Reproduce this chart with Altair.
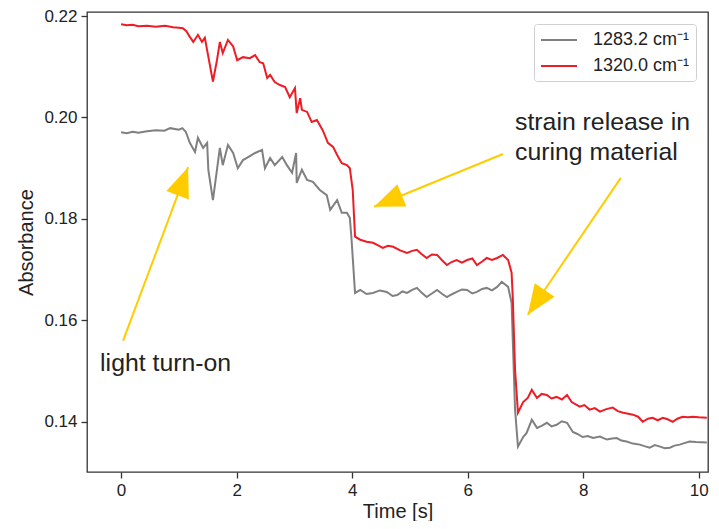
import altair as alt
import pandas as pd

# ---- data ----
red_t = [0.00, 0.10, 0.20, 0.30, 0.45, 0.60, 0.76, 0.90, 1.00, 1.07, 1.13, 1.19, 1.25, 1.33, 1.40,
         1.45, 1.51, 1.59, 1.66, 1.71, 1.76, 1.85, 1.94, 2.01, 2.11, 2.23, 2.32, 2.40, 2.46,
         2.53, 2.58, 2.66, 2.75, 2.84, 2.92, 3.01, 3.04, 3.10, 3.13, 3.22, 3.30, 3.39, 3.49,
         3.58, 3.67, 3.74, 3.82, 3.91, 3.96, 4.01, 4.05, 4.14, 4.25, 4.36, 4.45, 4.53, 4.62,
         4.71, 4.83, 4.95, 5.04, 5.12, 5.20, 5.29, 5.38, 5.47, 5.56, 5.64, 5.72, 5.81, 5.90,
         5.99, 6.08, 6.16, 6.25, 6.33, 6.42, 6.51, 6.61, 6.70, 6.76, 6.78, 6.82, 6.87, 6.96,
         7.04, 7.11, 7.20, 7.28, 7.37, 7.45, 7.54, 7.63, 7.72, 7.80, 7.94, 8.02, 8.11, 8.20,
         8.29, 8.40, 8.51, 8.60, 8.69, 8.78, 8.86, 8.95, 9.03, 9.12, 9.20, 9.29, 9.38, 9.46,
         9.55, 9.63, 9.72, 9.81, 9.90, 10.00, 10.14]
red_a = [0.2184, 0.2182, 0.2183, 0.2180, 0.2181, 0.2179, 0.2181, 0.2178, 0.2177, 0.2176, 0.2170, 0.2159, 0.2149, 0.2163, 0.2149,
         0.2157, 0.2120, 0.2071, 0.2113, 0.2149, 0.2127, 0.2153, 0.2140, 0.2113, 0.2119, 0.2117, 0.2123, 0.2109, 0.2107,
         0.2078, 0.2084, 0.2070, 0.2064, 0.2060, 0.2040, 0.2058, 0.2009, 0.2038, 0.2015, 0.2011, 0.1991, 0.1995, 0.1975,
         0.1950, 0.1942, 0.1926, 0.1910, 0.1906, 0.1900, 0.1857, 0.1765, 0.1759, 0.1755, 0.1753, 0.1748, 0.1743, 0.1747,
         0.1745, 0.1738, 0.1733, 0.1737, 0.1739, 0.1731, 0.1723, 0.1730, 0.1729, 0.1718, 0.1709, 0.1715, 0.1719, 0.1714,
         0.1719, 0.1722, 0.1709, 0.1716, 0.1723, 0.1719, 0.1723, 0.1729, 0.1719, 0.1694, 0.1646, 0.1502, 0.1418, 0.1439,
         0.1447, 0.1463, 0.1447, 0.1455, 0.1453, 0.1446, 0.1449, 0.1444, 0.1453, 0.1439, 0.1430, 0.1433, 0.1424, 0.1427,
         0.1420, 0.1425, 0.1428, 0.1421, 0.1418, 0.1416, 0.1414, 0.1410, 0.1400, 0.1406, 0.1408, 0.1403, 0.1408, 0.1405,
         0.1400, 0.1406, 0.1410, 0.1409, 0.1410, 0.1409, 0.1408]

gray_t = [0.00, 0.10, 0.20, 0.30, 0.45, 0.60, 0.75, 0.85, 1.00, 1.06, 1.12, 1.19, 1.28, 1.33, 1.42,
          1.49, 1.51, 1.59, 1.66, 1.71, 1.76, 1.85, 1.94, 2.02, 2.11, 2.20, 2.32, 2.44, 2.49,
          2.58, 2.66, 2.79, 2.87, 2.96, 3.03, 3.04, 3.13, 3.22, 3.32, 3.44, 3.56, 3.62, 3.74,
          3.82, 3.91, 3.96, 3.99, 4.05, 4.14, 4.25, 4.36, 4.48, 4.60, 4.70, 4.78, 4.87, 4.95,
          5.04, 5.12, 5.20, 5.29, 5.38, 5.47, 5.56, 5.64, 5.72, 5.81, 5.90, 5.99, 6.08, 6.16,
          6.25, 6.33, 6.42, 6.51, 6.59, 6.70, 6.76, 6.82, 6.87, 6.96, 7.02, 7.11, 7.20, 7.28,
          7.37, 7.45, 7.54, 7.63, 7.72, 7.82, 7.90, 7.99, 8.08, 8.17, 8.29, 8.41, 8.50, 8.58,
          8.66, 8.75, 8.86, 8.98, 9.06, 9.15, 9.24, 9.33, 9.41, 9.50, 9.58, 9.67, 9.75, 9.84,
          9.95, 10.14]
gray_a = [0.1971, 0.1969, 0.1972, 0.1970, 0.1973, 0.1975, 0.1974, 0.1979, 0.1976, 0.1979, 0.1972, 0.1950, 0.1932, 0.1960, 0.1940,
          0.1950, 0.1897, 0.1837, 0.1897, 0.1940, 0.1906, 0.1946, 0.1930, 0.1900, 0.1916, 0.1922, 0.1930, 0.1936, 0.1900,
          0.1920, 0.1906, 0.1922, 0.1906, 0.1891, 0.1930, 0.1871, 0.1897, 0.1877, 0.1873, 0.1857, 0.1847, 0.1818, 0.1837,
          0.1812, 0.1812, 0.1802, 0.1759, 0.1654, 0.1660, 0.1652, 0.1654, 0.1659, 0.1656, 0.1648, 0.1650, 0.1657, 0.1654,
          0.1660, 0.1664, 0.1655, 0.1646, 0.1653, 0.1660, 0.1652, 0.1646, 0.1651, 0.1656, 0.1661, 0.1660, 0.1653, 0.1656,
          0.1662, 0.1664, 0.1659, 0.1666, 0.1676, 0.1666, 0.1634, 0.1424, 0.1351, 0.1370, 0.1378, 0.1404, 0.1388, 0.1392,
          0.1398, 0.1391, 0.1394, 0.1401, 0.1398, 0.1380, 0.1376, 0.1370, 0.1372, 0.1368, 0.1371, 0.1365, 0.1367, 0.1368,
          0.1363, 0.1361, 0.1357, 0.1355, 0.1352, 0.1349, 0.1354, 0.1351, 0.1348, 0.1349, 0.1353, 0.1355, 0.1358, 0.1361,
          0.1360, 0.1359]

series_names = ["1283.2 cm\u207b\u00b9", "1320.0 cm\u207b\u00b9"]
series_colors = ["#808080", "#EE1C25"]

x_ticks = [0, 2, 4, 6, 8, 10]
y_ticks = [0.14, 0.16, 0.18, 0.20, 0.22]

# annotation arrows (start -> tip) in data units
arrow_t1 = [0.035, 6.61, 8.65]
arrow_a1 = [0.1560, 0.1928, 0.1881]
arrow_t2 = [1.16, 4.38, 7.04]
arrow_a2 = [0.1902, 0.1824, 0.1611]
arrow_angle = [20.5, 247.7, 214.2]

note_text = ["light turn-on", "strain release in", "curing material"]
note_t = [-0.363, 6.82, 6.82]
note_a = [0.1500, 0.1975, 0.1916]

FONT = "Liberation Sans"
GOLD = "#FFCC00"

rows = []
for i, (t, a) in enumerate(zip(gray_t, gray_a)):
    rows.append({"series": series_names[0], "t": t, "a": a, "i": i})
for i, (t, a) in enumerate(zip(red_t, red_a)):
    rows.append({"series": series_names[1], "t": t, "a": a, "i": i})
df = pd.DataFrame(rows)

arrows = pd.DataFrame({"t1": arrow_t1, "a1": arrow_a1, "t2": arrow_t2, "a2": arrow_a2, "ang": arrow_angle})
notes = pd.DataFrame({"txt": note_text, "t": note_t, "a": note_a})

xscale = alt.Scale(domain=[-0.59, 10.16], nice=False, zero=False)
yscale = alt.Scale(domain=[0.1301, 0.2208], nice=False, zero=False)

lines = alt.Chart(df).mark_line(strokeWidth=2, clip=True).encode(
    x=alt.X("t:Q", scale=xscale,
            axis=alt.Axis(values=x_ticks, format="d", title="Time [s]",
                          titleBaseline="alphabetic", titleY=45)),
    y=alt.Y("a:Q", scale=yscale,
            axis=alt.Axis(values=y_ticks, format=".2f", title="Absorbance")),
    color=alt.Color("series:N",
                    scale=alt.Scale(domain=series_names, range=series_colors),
                    legend=alt.Legend(title=None, orient="top-right", offset=12,
                                      symbolType="M-1,0L3,0", symbolSize=324,
                                      symbolStrokeWidth=2, labelFontSize=18,
                                      labelFont=FONT, labelColor="#222",
                                      labelOffset=33, padding=6, rowPadding=7,
                                      strokeColor="#d0d0d0", fillColor="white",
                                      cornerRadius=3)),
    order="i:Q",
)

shafts = alt.Chart(arrows).mark_rule(color=GOLD, strokeWidth=2).encode(
    x=alt.X("t1:Q", scale=xscale), y=alt.Y("a1:Q", scale=yscale),
    x2="t2:Q", y2="a2:Q",
)

heads = alt.Chart(arrows).mark_point(
    shape="M0,0L0.8,2L-0.8,2Z", filled=True, size=900, color=GOLD, opacity=1, strokeWidth=0
).encode(
    x=alt.X("t2:Q", scale=xscale), y=alt.Y("a2:Q", scale=yscale),
    angle=alt.Angle("ang:Q", scale=None),
)

texts = alt.Chart(notes).mark_text(
    align="left", baseline="alphabetic", fontSize=24.8, font=FONT, color="#222"
).encode(
    x=alt.X("t:Q", scale=xscale), y=alt.Y("a:Q", scale=yscale), text="txt:N",
)

chart = alt.layer(lines, shafts, heads, texts).properties(
    width=621, height=460,
    autosize=alt.AutoSizeParams(type="none"),
    padding={"left": 79, "top": 4, "right": 3, "bottom": 49},
).configure_view(
    stroke="#333333", strokeWidth=1.3
).configure_axis(
    grid=False, domain=False, labelFont=FONT, titleFont=FONT,
    labelFontSize=17, titleFontSize=20, labelColor="#222", titleColor="#222",
    titleFontWeight="normal", tickColor="#333333", tickSize=6, tickWidth=1.3,
    labelPadding=4,
).configure_axisY(
    titlePadding=7,
)

chart.save("out.html", embed_options={"renderer": "svg", "actions": False})
